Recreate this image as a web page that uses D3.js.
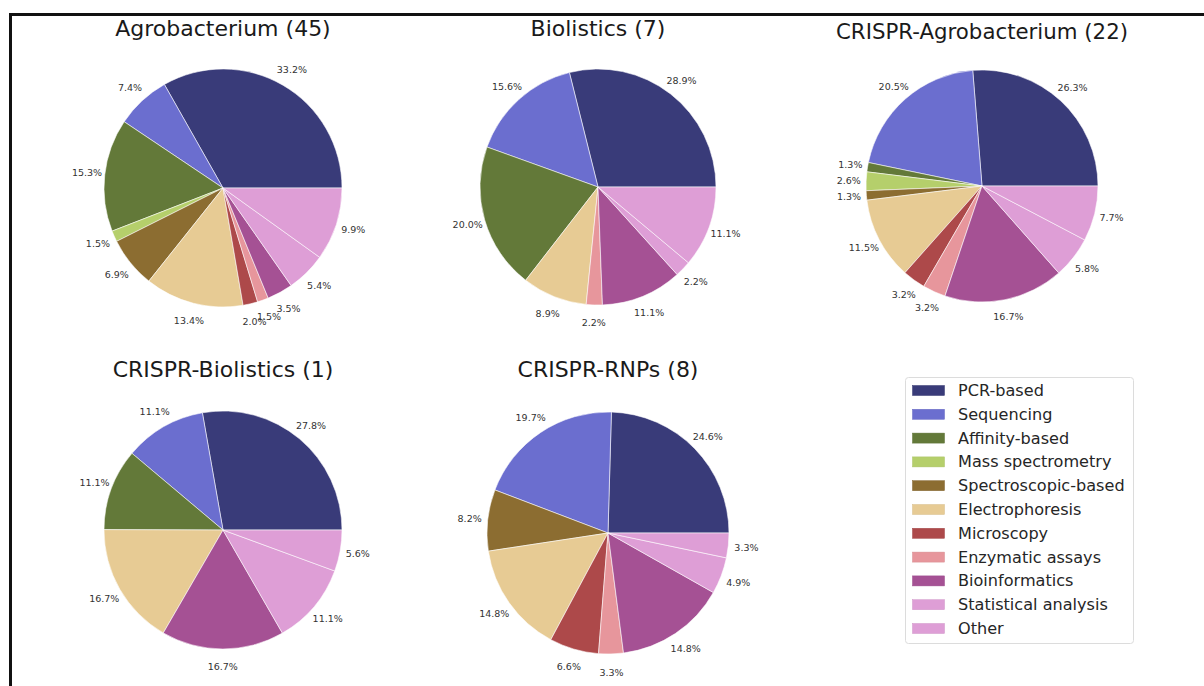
<!DOCTYPE html>
<html>
<head>
<meta charset="utf-8">
<script src="https://cdn.jsdelivr.net/npm/d3@7"></script>
<style>
  html, body { margin: 0; padding: 0; background: #fff; }
  svg { display: block; font-family: "DejaVu Sans", sans-serif; }
</style>
</head>
<body>
<svg id="chart" width="1204" height="686"></svg>
<script>
// ---- Data ----
const categories = ["PCR-based", "Sequencing", "Affinity-based", "Mass spectrometry",
  "Spectroscopic-based", "Electrophoresis", "Microscopy", "Enzymatic assays",
  "Bioinformatics", "Statistical analysis", "Other"];
const colors = ["#393b79", "#6b6ecf", "#637939", "#b5cf6b", "#8c6d31", "#e7cb94",
  "#ad494a", "#e7969c", "#a55194", "#de9ed6", "#de9ed6"];

const titles = ["Agrobacterium (45)", "Biolistics (7)", "CRISPR-Agrobacterium (22)",
  "CRISPR-Biolistics (1)", "CRISPR-RNPs (8)"];

const agrobacterium       = [33.2, 7.4, 15.3, 1.5, 6.9, 13.4, 2.0, 1.5, 3.5, 5.4, 9.9];
const biolistics          = [28.9, 15.6, 20.0, 0, 0, 8.9, 0, 2.2, 11.1, 2.2, 11.1];
const crisprAgrobacterium = [26.3, 20.5, 1.3, 2.6, 1.3, 11.5, 3.2, 3.2, 16.7, 5.8, 7.7];
const crisprBiolistics    = [27.8, 11.1, 11.1, 0, 0, 16.7, 0, 0, 16.7, 11.1, 5.6];
const crisprRNPs          = [24.6, 19.7, 0, 0, 8.2, 14.8, 6.6, 3.3, 14.8, 4.9, 3.3];

const seriesList = [agrobacterium, biolistics, crisprAgrobacterium, crisprBiolistics, crisprRNPs];

// ---- Layout ----
const layout = [
  {cx: 223, cy: 188, r: 119, ty: 36, fs: 22},
  {cx: 598, cy: 187, r: 118, ty: 36, fs: 22},
  {cx: 982, cy: 186, r: 116, ty: 39, fs: 21.3},
  {cx: 223, cy: 530, r: 119, ty: 377, fs: 22},
  {cx: 608, cy: 533, r: 121, ty: 377, fs: 22}
];

const svg = d3.select("#chart");

// frame
svg.append("path")
  .attr("d", "M10.5,686 L10.5,14.5 L1204,14.5")
  .attr("fill", "none").attr("stroke", "#111").attr("stroke-width", 3);

const color = d3.scaleOrdinal().domain(categories).range(colors);

const pie = d3.pie()
  .sort(null)
  .value(d => d.value)
  .startAngle(Math.PI / 2)
  .endAngle(Math.PI / 2 - 2 * Math.PI);

seriesList.forEach((vals, i) => {
  const L = layout[i];
  const data = categories.map((c, k) => ({cat: c, value: vals[k]})).filter(d => d.value > 0);
  const g = svg.append("g").attr("transform", `translate(${L.cx},${L.cy})`);
  const arc = d3.arc().innerRadius(0).outerRadius(L.r);
  const labelArc = d3.arc().innerRadius(L.r * 1.15).outerRadius(L.r * 1.15);
  const arcs = pie(data);

  g.selectAll("path.slice").data(arcs).join("path")
    .attr("class", "slice")
    .attr("d", arc)
    .attr("fill", d => color(d.data.cat))
    .attr("stroke", "#ffffff")
    .attr("stroke-opacity", 0.7)
    .attr("stroke-width", 0.8);

  g.selectAll("text.lbl").data(arcs).join("text")
    .attr("class", "lbl")
    .attr("transform", d => `translate(${labelArc.centroid(d)})`)
    .attr("text-anchor", "middle")
    .attr("dominant-baseline", "central")
    .attr("font-size", "9.5px")
    .attr("fill", "#333")
    .text(d => d.data.value.toFixed(1) + "%");

  svg.append("text")
    .attr("x", L.cx).attr("y", L.ty)
    .attr("text-anchor", "middle")
    .attr("font-size", L.fs + "px")
    .attr("fill", "#1a1a1a")
    .text(titles[i]);
});

// ---- Legend ----
const lg = svg.append("g").attr("transform", "translate(905,377)");
lg.append("rect")
  .attr("x", 0.5).attr("y", 0.5).attr("width", 228).attr("height", 266)
  .attr("rx", 3).attr("fill", "#fff").attr("stroke", "#dcdcdc").attr("stroke-width", 1);

const rowY = d3.scaleLinear().domain([0, categories.length - 1]).range([13.5, 251.5]);
const rows = lg.selectAll("g.row").data(categories).join("g")
  .attr("class", "row")
  .attr("transform", (d, k) => `translate(0,${rowY(k)})`);
rows.append("rect")
  .attr("x", 7.5).attr("y", -5).attr("width", 32).attr("height", 10)
  .attr("fill", d => color(d))
  .attr("stroke", d => d3.color(color(d)).darker(0.2))
  .attr("stroke-width", 0.5);
rows.append("text")
  .attr("x", 53).attr("y", 0)
  .attr("dominant-baseline", "central")
  .attr("font-size", "16.1px")
  .attr("fill", "#262626")
  .text(d => d);
</script>
</body>
</html>
